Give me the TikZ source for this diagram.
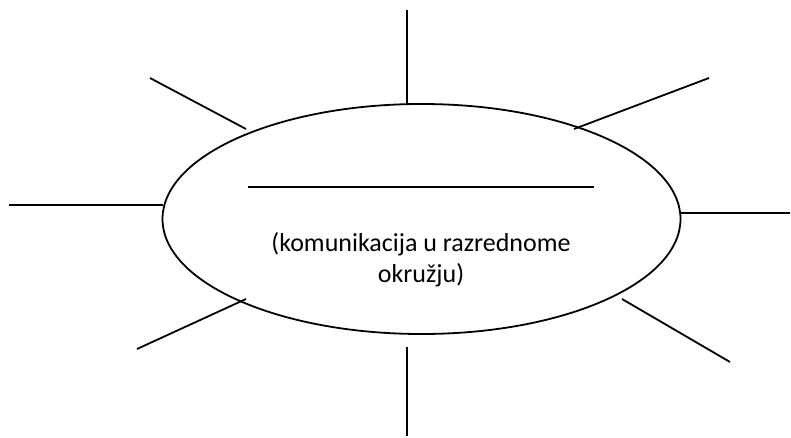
\documentclass[tikz,border=0pt]{standalone}
\usepackage{fontspec}
\setmainfont{Carlito}
\usetikzlibrary{shapes.geometric}
\begin{document}
\begin{tikzpicture}[x=1pt,y=-1pt,
  spoke/.style={draw=black,line width=1.8pt},
  oval/.style={ellipse,draw=black,line width=1.8pt,minimum width=518pt,minimum height=230pt,inner sep=0pt},
  label/.style={align=center,font=\fontsize{26}{31}\selectfont,inner sep=0pt}]
\useasboundingbox (0,0) rectangle (791,438);
\node[oval] (e) at (421.5,219) {};
\coordinate (t1) at (407,10);   \coordinate (t2) at (407,104);
\coordinate (tl1) at (150,78);  \coordinate (tl2) at (246,129);
\coordinate (tr1) at (709,78);  \coordinate (tr2) at (574,129);
\coordinate (l1) at (9,205);    \coordinate (l2) at (163,205);
\coordinate (r1) at (790,213);  \coordinate (r2) at (681,213);
\coordinate (bl1) at (137,349); \coordinate (bl2) at (246,299);
\coordinate (br1) at (730,362); \coordinate (br2) at (622,299);
\coordinate (b1) at (407,347);  \coordinate (b2) at (407,436);
\coordinate (h1) at (248,187);  \coordinate (h2) at (594,187);
\draw[spoke] (t1) -- (t2);
\draw[spoke] (tl1) -- (tl2);
\draw[spoke] (tr1) -- (tr2);
\draw[spoke] (l1) -- (l2);
\draw[spoke] (r1) -- (r2);
\draw[spoke] (bl1) -- (bl2);
\draw[spoke] (br1) -- (br2);
\draw[spoke] (b1) -- (b2);
\draw[spoke] (h1) -- (h2);
\node[label] (txt) at (421,260) {(komunikacija u razrednome\\okružju)};
\end{tikzpicture}
\end{document}
